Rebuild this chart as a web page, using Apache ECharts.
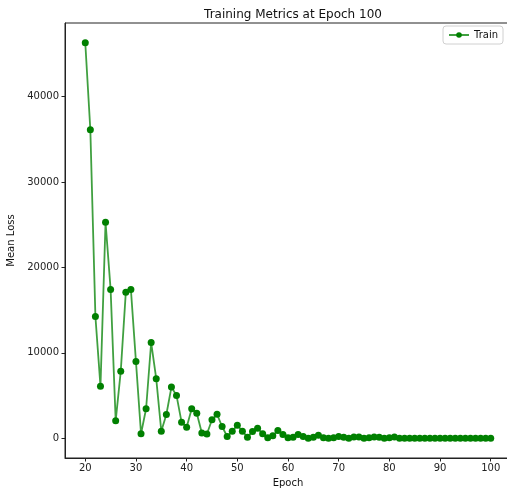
<!DOCTYPE html>
<html>
<head>
<meta charset="utf-8">
<script src="https://cdn.jsdelivr.net/npm/echarts@6/dist/echarts.min.js"></script>
<style>
html,body{margin:0;padding:0;background:#fff;}
#chart{width:507px;height:492px;}
</style>
</head>
<body>
<div id="chart"></div>
<script>
const epochs = [];
for (let e = 20; e <= 100; e++) epochs.push(e);
const trainLoss = [
  46290, 36110, 14250, 6070, 25280, 17420, 2040, 7830, 17100, 17420,
  8970, 520, 3450, 11200, 6970, 820, 2780, 5990, 5010, 1880,
  1290, 3450, 2930, 600, 500, 2160, 2800, 1370, 200, 820,
  1530, 820, 120, 790, 1170, 520, 50, 280, 900, 430,
  50, 120, 430, 200, 0, 120, 350, 50, 0, 50,
  200, 100, 0, 150, 150, 0, 50, 150, 100, 0,
  50, 150, 0, 0, 0, 0, 0, 0, 0, 0,
  0, 0, 0, 0, 0, 0, 0, 0, 0, 0,
  0
];
const xTicks = [20, 30, 40, 50, 60, 70, 80, 90, 100];
const yTicks = [0, 10000, 20000, 30000, 40000];

const chart = echarts.init(document.getElementById('chart'), null, {renderer: 'canvas'});
const font = 'DejaVu Sans';
chart.setOption({
  animation: false,
  backgroundColor: '#fff',
  title: {
    text: 'Training Metrics at Epoch 100',
    left: 288, top: 4, textAlign: 'center',
    textStyle: {fontFamily: font, fontSize: 12, fontWeight: 'normal', color: '#111'}
  },
  legend: {
    right: 4, top: 26,
    data: ['Train'],
    itemWidth: 20, itemHeight: 7, itemGap: 6,
    padding: [4, 5, 4, 5],
    borderColor: '#d0d0d0', borderWidth: 1, borderRadius: 3,
    textStyle: {fontFamily: font, fontSize: 10, color: '#111'}
  },
  grid: {left: 65, top: 23, width: 446, height: 435, show: true, borderColor: '#222', borderWidth: 1,
         containLabel: false, outerBoundsMode: 'none'},
  xAxis: {
    type: 'value', min: 16, max: 104,
    name: 'Epoch', nameLocation: 'middle', nameGap: 20,
    nameTextStyle: {fontFamily: font, fontSize: 10, color: '#111'},
    axisLine: {show: true, onZero: false, lineStyle: {color: '#222'}},
    axisTick: {show: true, length: 3.5, customValues: xTicks, lineStyle: {color: '#222'}},
    axisLabel: {customValues: xTicks, fontFamily: font, fontSize: 10, color: '#222', margin: 5},
    splitLine: {show: false}
  },
  yAxis: {
    type: 'value', min: -2315, max: 48600,
    name: 'Mean Loss', nameLocation: 'middle', nameGap: 44, nameRotate: 90,
    nameTextStyle: {fontFamily: font, fontSize: 10, color: '#111'},
    axisLine: {show: true, onZero: false, lineStyle: {color: '#222'}},
    axisTick: {show: true, length: 3.5, customValues: yTicks, lineStyle: {color: '#222'}},
    axisLabel: {customValues: yTicks, formatter: v => String(v), fontFamily: font, fontSize: 10, color: '#222', margin: 6},
    splitLine: {show: false}
  },
  series: [{
    name: 'Train', type: 'line',
    data: epochs.map((e, i) => [e, trainLoss[i]]),
    symbol: 'circle', symbolSize: 7, showSymbol: true,
    lineStyle: {color: '#008000', width: 1.8, opacity: 0.75},
    itemStyle: {color: '#008000'},
    clip: false
  }]
});
</script>
</body>
</html>
